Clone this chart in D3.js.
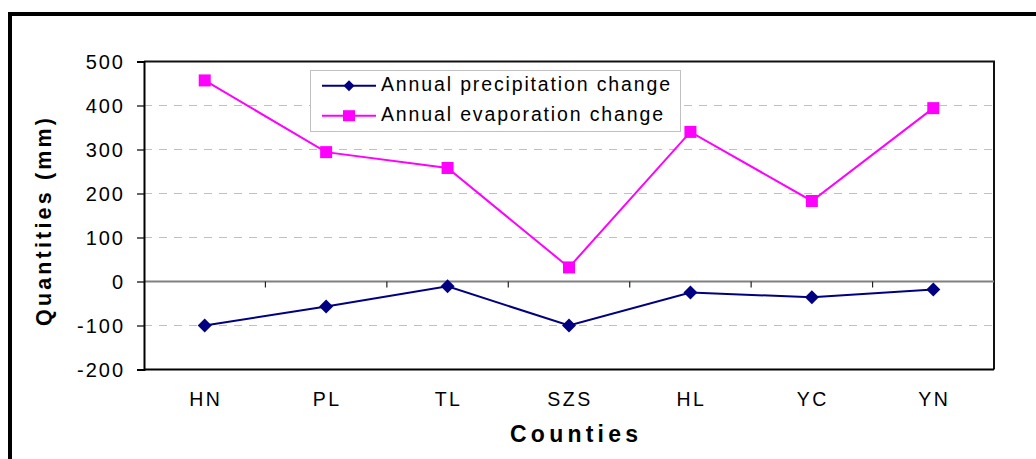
<!DOCTYPE html>
<html>
<head>
<meta charset="utf-8">
<script src="https://cdn.jsdelivr.net/npm/d3@7"></script>
<style>
  html, body { margin: 0; padding: 0; background: #fff; }
  svg { display: block; font-family: "Liberation Sans", Arial, sans-serif; }
</style>
</head>
<body>
<svg id="chart" width="1036" height="459"></svg>
<script>
// Counties and the change in annual water balance terms (mm)
const counties = ["HN", "PL", "TL", "SZS", "HL", "YC", "YN"];
const precipitationChange = [-100, -57, -11, -100, -25, -36, -18];
const evaporationChange = [457, 294, 258, 32, 340, 183, 394];
const yTicks = [-200, -100, 0, 100, 200, 300, 400, 500];
const seriesNames = ["Annual precipitation change", "Annual evaporation change"];

const svg = d3.select("#chart");
const W = 1036, H = 459;

// Frame on the left and top edges
svg.append("line").attr("x1", 10).attr("x2", 10).attr("y1", 12).attr("y2", H)
  .attr("stroke", "#000").attr("stroke-width", 4);
svg.append("line").attr("x1", 8).attr("x2", W).attr("y1", 14).attr("y2", 14)
  .attr("stroke", "#000").attr("stroke-width", 4);

const plot = { left: 144, right: 994, top: 61.5, bottom: 369.5 };

const x = d3.scaleBand().domain(counties).range([plot.left, plot.right]).padding(0);
const y = d3.scaleLinear().domain([-200, 500]).range([plot.bottom, plot.top]);

// Horizontal gridlines
svg.append("g").selectAll("line")
  .data(yTicks.filter(v => v !== 0 && v !== 500 && v !== -200))
  .join("line")
  .attr("x1", plot.left).attr("x2", plot.right)
  .attr("y1", d => y(d)).attr("y2", d => y(d))
  .attr("stroke", "#c0c0c0").attr("stroke-width", 1.2)
  .attr("stroke-dasharray", "8,7");

// Plot area border (top and right)
svg.append("path")
  .attr("d", `M${plot.left},${plot.top}H${plot.right}V${plot.bottom}`)
  .attr("fill", "none").attr("stroke", "#111").attr("stroke-width", 2);
svg.append("line")
  .attr("x1", plot.left).attr("x2", plot.right)
  .attr("y1", plot.bottom).attr("y2", plot.bottom)
  .attr("stroke", "#000").attr("stroke-width", 2);

// Zero line with category tick marks
svg.append("line")
  .attr("x1", plot.left).attr("x2", plot.right)
  .attr("y1", y(0)).attr("y2", y(0))
  .attr("stroke", "#808080").attr("stroke-width", 2);
svg.append("g").selectAll("line")
  .data(counties.slice(1))
  .join("line")
  .attr("x1", d => x(d)).attr("x2", d => x(d))
  .attr("y1", y(0)).attr("y2", y(0) + 6)
  .attr("stroke", "#222").attr("stroke-width", 1.2);

// Y axis
const yAxis = d3.axisLeft(y).tickValues(yTicks).tickSize(7).tickPadding(14)
  .tickFormat(d => String(d));
const gy = svg.append("g").attr("transform", `translate(${plot.left},0)`).call(yAxis);
gy.select(".domain").attr("stroke", "#000").attr("stroke-width", 2);
gy.selectAll(".tick line").attr("stroke", "#000").attr("stroke-width", 1.2);
gy.selectAll(".tick text")
  .attr("font-size", 20).attr("fill", "#000")
  .attr("letter-spacing", 2).attr("dx", 2).attr("dy", "0.33em")
  .style("font-family", "'Liberation Sans', Arial, sans-serif");

// Category labels
svg.append("g").selectAll("text")
  .data(counties)
  .join("text")
  .attr("x", d => x(d) + x.bandwidth() / 2 + 1)
  .attr("y", 406)
  .attr("text-anchor", "middle")
  .attr("font-size", 19.5)
  .attr("letter-spacing", 2.5)
  .text(d => d);

// Axis titles
svg.append("text")
  .attr("x", 574).attr("y", 441.5)
  .attr("text-anchor", "middle")
  .attr("font-size", 23).attr("font-weight", "bold")
  .attr("textLength", 128).attr("lengthAdjust", "spacing")
  .text("Counties");
svg.append("text")
  .attr("transform", "translate(51,222) rotate(-90)")
  .attr("text-anchor", "middle")
  .attr("font-size", 21.5).attr("font-weight", "bold")
  .attr("textLength", 208).attr("lengthAdjust", "spacing")
  .text("Quantities (mm)");

// Series lines
const line = d3.line().x((d, i) => x(counties[i]) + x.bandwidth() / 2).y(d => y(d));

svg.append("path").datum(evaporationChange)
  .attr("d", line).attr("fill", "none")
  .attr("stroke", "#ff00ff").attr("stroke-width", 2);
svg.append("path").datum(precipitationChange)
  .attr("d", line).attr("fill", "none")
  .attr("stroke", "#000080").attr("stroke-width", 2);

const sq = 12, dm = 7;
svg.append("g").selectAll("rect")
  .data(evaporationChange)
  .join("rect")
  .attr("x", (d, i) => x(counties[i]) + x.bandwidth() / 2 - sq / 2)
  .attr("y", d => y(d) - sq / 2)
  .attr("width", sq).attr("height", sq)
  .attr("fill", "#ff00ff");
svg.append("g").selectAll("path")
  .data(precipitationChange)
  .join("path")
  .attr("transform", (d, i) => `translate(${x(counties[i]) + x.bandwidth() / 2},${y(d)})`)
  .attr("d", `M0,${-dm}L${dm},0L0,${dm}L${-dm},0Z`)
  .attr("fill", "#000080");

// Legend
const lg = svg.append("g");
lg.append("rect")
  .attr("x", 310.5).attr("y", 70.5).attr("width", 370).attr("height", 61)
  .attr("fill", "#fff").attr("stroke", "#c0c0c0").attr("stroke-width", 1);
const rows = [
  { name: seriesNames[0], color: "#000080", y: 85.7, len: 289, marker: "diamond" },
  { name: seriesNames[1], color: "#ff00ff", y: 115.7, len: 282, marker: "square" }
];
rows.forEach(r => {
  lg.append("line").attr("x1", 322).attr("x2", 376).attr("y1", r.y).attr("y2", r.y)
    .attr("stroke", r.color).attr("stroke-width", 2);
  if (r.marker === "diamond") {
    lg.append("path").attr("transform", `translate(349,${r.y})`)
      .attr("d", "M0,-5.5L5.5,0L0,5.5L-5.5,0Z").attr("fill", r.color);
  } else {
    lg.append("rect").attr("x", 343).attr("y", r.y - 5.5).attr("width", 12).attr("height", 11)
      .attr("fill", r.color);
  }
  lg.append("text").attr("x", 381).attr("y", r.y + 5)
    .attr("font-size", 19.5)
    .attr("textLength", r.len).attr("lengthAdjust", "spacing")
    .text(r.name);
});
</script>
</body>
</html>
